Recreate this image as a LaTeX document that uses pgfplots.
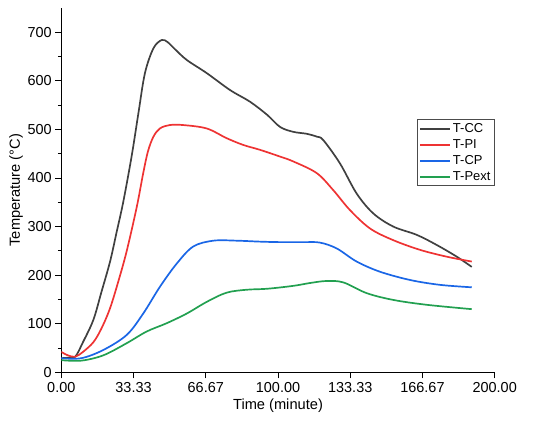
\documentclass[border=0pt]{standalone}
\usepackage{pgfplots}
\pgfplotsset{compat=1.18}
\usepackage{fontspec}
\setmainfont{Liberation Sans}
\definecolor{cc}{HTML}{404040}
\definecolor{pi}{HTML}{EE3333}
\definecolor{cp}{HTML}{1A66E6}
\definecolor{pe}{HTML}{22A050}
\begin{document}
\begin{tikzpicture}[x=1bp,y=1bp]
\useasboundingbox (0,0) rectangle (550,425);
\begin{axis}[
  at={(61.3bp,52.7bp)}, anchor=south west,
  scale only axis, width=433.4bp, height=364.3bp,
  xmin=0, xmax=200, ymin=0, ymax=750,
  axis x line=bottom, axis y line=left,
  axis line style={-, black, line width=0.8pt},
  tick align=outside,
  major tick length=6bp, minor tick length=3.5bp,
  every tick/.style={black, line width=0.8pt},
  xtick={0,33.333,66.667,100,133.333,166.667,200},
  xticklabels={0.00,33.33,66.67,100.00,133.33,166.67,200.00},
  minor x tick num=1,
  ytick={0,100,...,700},
  minor y tick num=1,
  tick label style={font=\fontsize{14.5}{16}\selectfont},
  xticklabel style={yshift=-1bp},
  /pgf/number format/assume math mode=true,
  xlabel={Time (minute)}, ylabel={Temperature (\textdegree C)},
  label style={font=\fontsize{14.7}{16}\selectfont},
  xlabel style={yshift=1bp},
  ylabel style={yshift=-2bp},
  legend style={at={(rel axis cs:1,0.695)}, anchor=north east,
    draw=black!70, line width=0.6pt, font=\fontsize{13}{14}\selectfont,
    inner sep=2bp, row sep=1.5bp, cells={anchor=west}},
  legend image code/.code={\draw[#1, line width=2pt] (0,0) -- (30bp,0);},
]
\addplot[cc, line width=1.7pt, smooth, tension=0.55] coordinates {
(0,29) (3,30) (6.4,32) (10,62) (14.8,108) (18.5,165) (22.5,228) (25.5,288) (28.6,351) (32.5,446) (35.6,534) (38.6,616) (42.5,667) (46.3,684) (49,680) (52.5,665) (57.9,643) (67.1,616) (77.9,581) (87.1,557) (95,530) (101,505) (107.1,495) (113.3,491) (118,485) (120.9,478) (128.6,430) (136.3,368) (144,327) (153.2,300) (164,283) (173.3,262) (182.5,238) (189.4,217)
};
\addlegendentry{T-CC}
\addplot[pi, line width=1.7pt, smooth, tension=0.55] coordinates {
(0,42) (3,35) (6.4,32) (10,42) (14.8,62) (18.5,90) (22.5,132) (26.5,190) (30.2,250) (34.8,340) (37.8,410) (40,455) (42.5,485) (45.5,502) (50,509) (56.3,509) (67.1,502) (76.3,482) (84,468) (91.7,458) (101,444) (107.1,434) (117.9,410) (125.5,375) (133.2,334) (142.5,296) (153.2,272) (165.6,252) (177.9,238) (189.4,228)
};
\addlegendentry{T-PI}
\addplot[cp, line width=1.7pt, smooth, tension=0.55] coordinates {
(0,29) (9.2,29) (19.4,46) (30.2,77) (37.8,121) (45.5,176) (53.3,224) (60.9,259) (70.2,271) (80.9,271) (91.7,269) (101,268) (112,268) (119.4,267) (127.1,255) (136.3,228) (147.1,207) (161,190) (174.8,180) (189.4,175)
};
\addlegendentry{T-CP}
\addplot[pe, line width=1.7pt, smooth, tension=0.55] coordinates {
(0,25) (9.2,24) (19.4,35) (30.2,60) (39.4,84) (48.6,101) (57.9,121) (67.1,145) (76.3,164) (85.6,170) (95,172) (107.1,178) (115,184) (122.5,188) (130.2,185) (140.9,163) (153.2,149) (168.6,139) (189.4,130)
};
\addlegendentry{T-Pext}
\end{axis}
\end{tikzpicture}
\end{document}
